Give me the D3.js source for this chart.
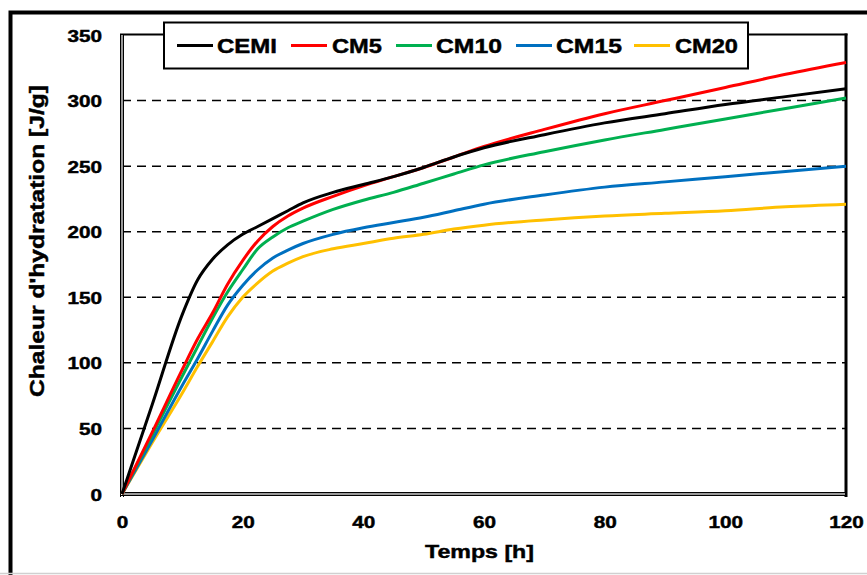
<!DOCTYPE html>
<html>
<head>
<meta charset="utf-8">
<script src="https://cdn.jsdelivr.net/npm/d3@7/dist/d3.min.js"></script>
<style>
  html, body { margin: 0; padding: 0; background: #fff; }
  svg { display: block; font-family: "Liberation Sans", Arial, sans-serif; font-weight: bold; }
  svg text { stroke: #000; stroke-width: 0.45px; }
</style>
</head>
<body>
<div id="chart"></div>
<script>
;(function() {
  "use strict";

  // Data
  // ---------------------------------------------------------------------------
  var hours = [0, 5, 10, 12.5, 15, 17.5, 20, 22.5, 25, 27.5, 30, 35, 40, 45, 50, 55, 60, 70, 80, 90, 100, 110, 120];

  var cemi = [0, 68, 137, 163, 179, 190, 198, 204, 210, 216, 222, 230, 236, 242, 249, 257, 264, 274, 283, 290, 297, 303, 309];
  var cm5  = [0, 47, 95, 118, 138, 160, 178, 193, 204, 212, 218, 227, 235, 242, 249, 257, 265, 278, 290, 300, 310, 320, 329];
  var cm10 = [0, 45, 90, 112, 134, 154, 171, 187, 196, 203, 208, 217, 224, 230, 237, 244, 251, 261, 270, 278, 286, 294, 302];
  var cm15 = [0, 41, 83, 103, 124, 144, 159, 171, 180, 186, 191, 198, 203, 207, 211, 216, 221, 228, 234, 238, 242, 246, 250];
  var cm20 = [0, 39, 77, 97, 116, 135, 150, 161, 170, 176, 181, 187, 191, 195, 198, 202, 205, 209, 212, 214, 216, 219, 221];

  var seriesNames  = ["CEMI", "CM5", "CM10", "CM15", "CM20"];
  var seriesValues = [cemi, cm5, cm10, cm15, cm20];
  var seriesColors = ["#000000", "#ff0000", "#00b050", "#0070c0", "#ffc000"];

  var xTicks = [0, 20, 40, 60, 80, 100, 120];
  var yTicks = [0, 50, 100, 150, 200, 250, 300, 350];
  var gridTicks = [50, 100, 150, 200, 250, 300];

  // Dimensions
  // ---------------------------------------------------------------------------
  var W = 867, H = 575;
  var plot = { left: 122, right: 846, top: 35, bottom: 494 };
  var stretch = 1.22; // glyphs in the reference are wider than Arial

  var svg = d3.select("#chart").append("svg")
    .attr("width", W)
    .attr("height", H);

  var x = d3.scaleLinear().domain([0, 120]).range([plot.left, plot.right]);
  var y = d3.scaleLinear().domain([0, 350]).range([plot.bottom, plot.top]);

  // Outer frame
  svg.append("rect")
    .attr("x", 10.5).attr("y", 12.5)
    .attr("width", 1000).attr("height", 800)
    .attr("fill", "none")
    .attr("stroke", "#000")
    .attr("stroke-width", 4);

  svg.append("line")
    .attr("x1", 0).attr("x2", W)
    .attr("y1", 573.5).attr("y2", 573.5)
    .attr("stroke", "#d0d0d0")
    .attr("stroke-width", 1.5);

  // Grid
  // ---------------------------------------------------------------------------
  svg.append("g")
    .selectAll("line")
    .data(gridTicks)
    .enter().append("line")
      .attr("x1", plot.left).attr("x2", plot.right)
      .attr("y1", function(d) { return y(d); })
      .attr("y2", function(d) { return y(d); })
      .attr("stroke", "#000")
      .attr("stroke-width", 1.5)
      .attr("stroke-dasharray", "9,6");

  // Plot frame: thick top/right, double thin left/bottom
  var frame = svg.append("g");
  frame.append("line")
    .attr("x1", plot.left - 2).attr("x2", plot.right + 1.5)
    .attr("y1", plot.top - 0.5).attr("y2", plot.top - 0.5)
    .attr("stroke", "#000").attr("stroke-width", 2);
  frame.append("line")
    .attr("x1", plot.right).attr("x2", plot.right)
    .attr("y1", plot.top - 1.5).attr("y2", plot.bottom + 3)
    .attr("stroke", "#000").attr("stroke-width", 3);
  [-1.5, 1.5].forEach(function(o) {
    frame.append("line")
      .attr("x1", plot.left + o).attr("x2", plot.left + o)
      .attr("y1", plot.top - 1).attr("y2", plot.bottom + 3)
      .attr("stroke", "#000").attr("stroke-width", 1);
    frame.append("line")
      .attr("x1", plot.left - 2).attr("x2", plot.right)
      .attr("y1", plot.bottom + o).attr("y2", plot.bottom + o)
      .attr("stroke", "#000").attr("stroke-width", 1);
  });
  frame.append("line")
    .attr("x1", plot.left).attr("x2", plot.left)
    .attr("y1", plot.top).attr("y2", plot.bottom)
    .attr("stroke", "#999").attr("stroke-width", 2);
  frame.append("line")
    .attr("x1", plot.left).attr("x2", plot.right - 1)
    .attr("y1", plot.bottom).attr("y2", plot.bottom)
    .attr("stroke", "#999").attr("stroke-width", 2);

  // Axes (labels only)
  // ---------------------------------------------------------------------------
  var yAxis = svg.append("g")
    .attr("transform", "translate(" + plot.left + ",0)")
    .call(d3.axisLeft(y).tickValues(yTicks).tickSize(0).tickPadding(0));
  yAxis.select(".domain").remove();
  yAxis.selectAll("text")
    .attr("font-size", 17)
    .attr("font-family", "Liberation Sans, Arial, sans-serif")
    .attr("font-weight", "bold")
    .attr("fill", "#000")
    .attr("x", -20 / stretch)
    .attr("dy", "0.36em")
    .attr("transform", "scale(" + stretch + ",1)");

  var xAxis = svg.append("g")
    .attr("transform", "translate(0," + plot.bottom + ")")
    .call(d3.axisBottom(x).tickValues(xTicks).tickSize(0).tickPadding(0));
  xAxis.select(".domain").remove();
  xAxis.selectAll("text")
    .attr("font-size", 17)
    .attr("font-family", "Liberation Sans, Arial, sans-serif")
    .attr("font-weight", "bold")
    .attr("fill", "#000")
    .attr("y", 34)
    .attr("dy", 0)
    .attr("transform", "scale(" + stretch + ",1)")
    .attr("x", 0);

  // Axis titles
  svg.append("text")
    .attr("x", 479.5).attr("y", 558)
    .attr("text-anchor", "middle")
    .attr("font-size", 19)
    .attr("textLength", 109)
    .attr("lengthAdjust", "spacingAndGlyphs")
    .text("Temps [h]");

  svg.append("text")
    .attr("transform", "translate(44,241) rotate(-90)")
    .attr("text-anchor", "middle")
    .attr("font-size", 20)
    .attr("textLength", 312)
    .attr("lengthAdjust", "spacingAndGlyphs")
    .text("Chaleur d'hydratation [J/g]");

  // Curves
  // ---------------------------------------------------------------------------
  var line = d3.line()
    .x(function(d) { return x(d[0]); })
    .y(function(d) { return y(d[1]); })
    .curve(d3.curveMonotoneX);

  svg.append("g")
    .selectAll("path")
    .data(seriesValues.map(function(vals) {
      return hours.map(function(h, i) { return [h, vals[i]]; });
    }).reverse())
    .enter().append("path")
      .attr("d", line)
      .attr("fill", "none")
      .attr("stroke", function(d, i) { return seriesColors[seriesColors.length - 1 - i]; })
      .attr("stroke-width", 3)
      .attr("stroke-linejoin", "round");

  // Legend
  // ---------------------------------------------------------------------------
  var legendBox = { x: 164, y: 22.5, w: 584, h: 46 };
  var legendItems = [
    { line: 177, text: 217, width: 60 },
    { line: 291, text: 332, width: 50 },
    { line: 396, text: 436, width: 66 },
    { line: 516, text: 556, width: 66 },
    { line: 634, text: 675, width: 63 }
  ];

  var legend = svg.append("g").attr("id", "legend");
  legend.append("rect")
    .attr("x", legendBox.x).attr("y", legendBox.y)
    .attr("width", legendBox.w).attr("height", legendBox.h)
    .attr("fill", "#fff")
    .attr("stroke", "#000")
    .attr("stroke-width", 2);

  var item = legend.selectAll(".item")
    .data(seriesNames)
    .enter().append("g")
      .attr("class", "item");

  item.append("line")
    .attr("x1", function(d, i) { return legendItems[i].line; })
    .attr("x2", function(d, i) { return legendItems[i].line + 36; })
    .attr("y1", 45.5).attr("y2", 45.5)
    .attr("stroke", function(d, i) { return seriesColors[i]; })
    .attr("stroke-width", 3);

  item.append("text")
    .attr("x", function(d, i) { return legendItems[i].text; })
    .attr("y", 52.5)
    .attr("font-size", 20)
    .attr("textLength", function(d, i) { return legendItems[i].width; })
    .attr("lengthAdjust", "spacingAndGlyphs")
    .text(function(d) { return d; });
})();
</script>
</body>
</html>
